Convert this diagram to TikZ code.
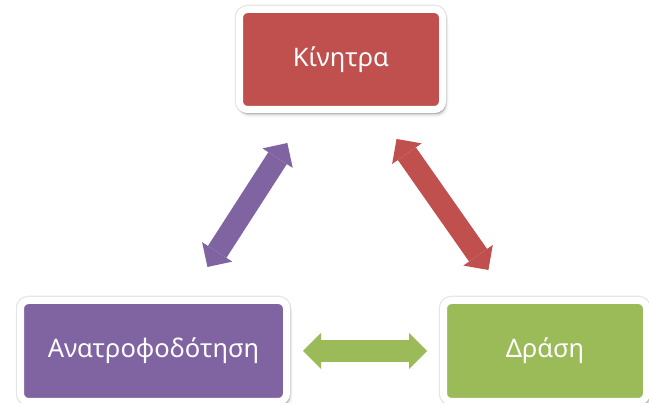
\documentclass[tikz,border=0pt]{standalone}
\usepackage{fontspec}
\setmainfont{Noto Sans}
\usetikzlibrary{shapes,arrows.meta,positioning,calc,shadows,shadows.blur}
\definecolor{accentred}{RGB}{192,80,77}
\definecolor{accentpurple}{RGB}{128,100,162}
\definecolor{accentgreen}{RGB}{155,187,89}

\begin{document}
\begin{tikzpicture}[x=1pt, y=-1pt,
    box/.style={draw=white, line width=7pt, rounded corners=8pt, text=white,
        font=\fontsize{25.5}{30}\selectfont, inner sep=0pt, minimum height=101pt,
        blur shadow={shadow xshift=2pt, shadow yshift=-4pt, shadow blur radius=4pt, shadow opacity=40},
        preaction={draw=black, draw opacity=0.1, line width=9.5pt}},
    link/.style={line width=22pt,
        {Triangle[length=18pt,width=36pt,line width=0pt]}-{Triangle[length=18pt,width=36pt,line width=0pt]}}]
    \useasboundingbox (0,0) rectangle (649,403);
    \node[box, fill=accentred, minimum width=203pt, minimum height=100pt] (kin) at (341,59.5) {Κίνητρα};
    \node[box, fill=accentpurple, minimum width=266pt] (anat) at (153.5,351) {Ανατροφοδότηση};
    \node[box, fill=accentgreen, minimum width=203pt] (dras) at (545,351) {Δράση};
    \draw[link, accentpurple, shorten <=35.7pt, shorten >=35.7pt] (kin) -- (anat);
    \draw[link, accentred, shorten <=31.7pt, shorten >=33pt] (kin) -- (dras);
    \draw[link, accentgreen, shorten <=13pt, shorten >=13pt] (anat) -- (dras);
\end{tikzpicture}
\end{document}
